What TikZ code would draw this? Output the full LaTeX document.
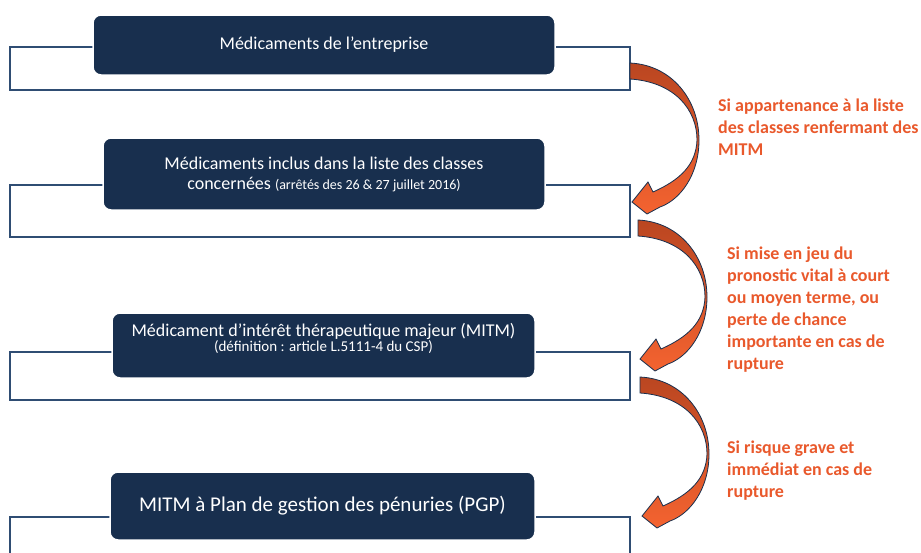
\documentclass[tikz,border=0pt]{standalone}
\usepackage{fontspec}
\setmainfont{Carlito}
\usetikzlibrary{positioning, calc}
\definecolor{mynavy}{RGB}{24,47,78}
\definecolor{myframe}{RGB}{47,77,115}
\definecolor{myorange}{RGB}{233,89,44}
\definecolor{mydarkred}{RGB}{186,70,33}
\definecolor{mybright}{RGB}{244,99,48}

\begin{document}
\begin{tikzpicture}[x=1pt,y=-1pt,
    box/.style={fill=mynavy,draw=white,line width=1.5pt,rounded corners=8pt,text=white,align=center,inner sep=0pt,font=\fontsize{18}{20}\selectfont},
    frame/.style={draw=myframe,line width=1.5pt,minimum width=620pt,inner sep=0pt},
    cond/.style={anchor=north west,align=left,inner sep=0pt,text=myorange,font=\bfseries\fontsize{18}{22}\selectfont},
    bendarrow/.style={draw=mynavy,line width=0.8pt,top color=mydarkred,bottom color=mybright}]
    \useasboundingbox (0,0) rectangle (921,552);
    \clip (0,0) rectangle (921,552);
    \node[frame,minimum height=43pt] (f1) at (320,68.5) {};
    \node[frame,minimum height=52pt] (f2) at (320,211) {};
    \node[frame,minimum height=48pt] (f3) at (320,376) {};
    \node[frame,minimum height=83pt] (f4) at (320,558.5) {};
    \node[box,minimum width=462pt,minimum height=60pt] (b1) at (324,45) {Médicaments de l’entreprise};
    \node[box,minimum width=442pt,minimum height=72pt] (b2) at (324,174) {Médicaments inclus dans la liste des classes\\concernées {\fontsize{14}{16}\selectfont(arrêtés des 26 \& 27 juillet 2016)}};
    \node[box,minimum width=423pt,minimum height=65pt] (b3) at (323.5,345.5) {Médicament d’intérêt thérapeutique majeur (MITM)\\[-5pt]{\fontsize{15}{16}\selectfont(définition : article L.5111-4 du CSP)}\\[-4pt]};
    \node[box,minimum width=425pt,minimum height=68pt,font=\fontsize{21}{24}\selectfont] (b4) at (322.5,506) {MITM à Plan de gestion des pénuries (PGP)};
    \coordinate (a1) at (630,63);
    \coordinate (a2) at (638,220);
    \coordinate (a3) at (640,377);
    \foreach \s in {a1,a2,a3} {
        \draw[bendarrow,shift={(\s)}] (0,0) .. controls (42,2) and (69,37) .. (69,77) .. controls (69,112) and (50,137) .. (30,144) -- (17,151) -- (2,139) -- (18,119) -- (23,129) .. controls (50,117) and (66,102) .. (67,77) .. controls (67,47) and (45,19) .. (0,16) -- cycle;
    }
    \node[cond] (l1) at (718,99) {Si appartenance à la liste\\des classes renfermant des\\MITM};
    \node[cond] (l2) at (727,247) {Si mise en jeu du\\pronostic vital à court\\ou moyen terme, ou\\perte de chance\\importante en cas de\\rupture};
    \node[cond] (l3) at (727,441) {Si risque grave et\\immédiat en cas de\\rupture};
\end{tikzpicture}
\end{document}
